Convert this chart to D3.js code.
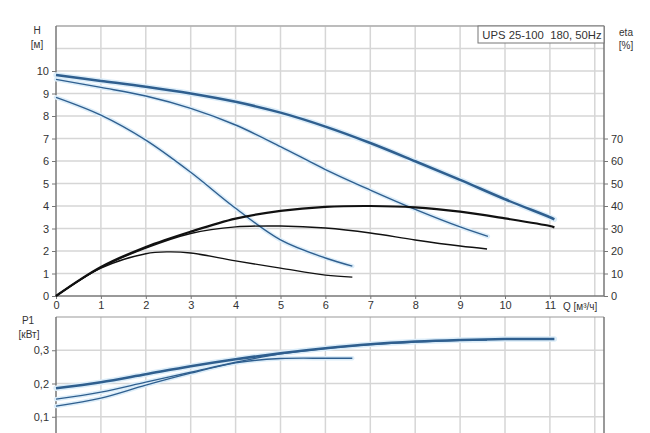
<!DOCTYPE html>
<html><head><meta charset="utf-8">
<script src="https://cdn.jsdelivr.net/npm/d3@7/dist/d3.min.js"></script>
<style>
html,body{margin:0;padding:0;background:#fff;}
svg text{font-family:"Liberation Sans",Arial,sans-serif;fill:#333;}
</style></head>
<body><svg id="c" width="650" height="433"></svg>
<script>
// Data (Q in m³/h)
const qTicks = [0,1,2,3,4,5,6,7,8,9,10,11];
const hTicks = [0,1,2,3,4,5,6,7,8,9,10];
const etaTicks = [0,10,20,30,40,50,60,70];
const pTicks = [0.1,0.2,0.3];

const hMaxQ = [0,1,2,3,4,5,6,7,8,9,10,11,11.1];
const hMax  = [9.82,9.56,9.3,9.0,8.63,8.15,7.53,6.8,5.99,5.16,4.3,3.5,3.41];
const hMidQ = [0,1,2,3,4,5,6,7,8,9,9.62];
const hMid  = [9.63,9.27,8.89,8.34,7.6,6.64,5.62,4.71,3.85,3.07,2.65];
const hLowQ = [0,1,2,3,4,5,6,6.6];
const hLow  = [8.83,8.04,6.93,5.5,3.9,2.49,1.69,1.33];

const etaMaxQ = [0,1,2,3,4,5,6,7,8,9,10,11,11.1];
const etaMax  = [0,12.9,21.8,28.6,34.4,37.8,39.6,40,39.4,37.5,34.5,31.1,30.5];
const etaMidQ = [0,1,2,3,4,5,6,7,8,9,9.6];
const etaMid  = [0,12.6,21.3,27.8,30.7,31.1,30.2,28,24.9,22.2,20.9];
const etaLowQ = [0,1,2,2.5,3,4,5,6,6.6];
const etaLow  = [0,12.4,18.8,19.6,19.1,15.6,12.4,9.3,8.4];

const pMaxQ = [0,1,2,3,4,5,6,7,8,9,10,11,11.1];
const pMax  = [0.186,0.204,0.228,0.252,0.273,0.291,0.306,0.318,0.326,0.331,0.334,0.334,0.334];
const pMidQ = [0,1,2,3,4,5,6,7,8,9,9.6];
const pMid  = [0.153,0.174,0.204,0.234,0.264,0.289,0.305,0.317,0.325,0.330,0.331];
const pLowQ = [0,1,2,3,4,5,6,6.6];
const pLow  = [0.132,0.156,0.195,0.231,0.262,0.275,0.276,0.276];

const svg = d3.select("#c");
const L = 56, R = 604;
const x = d3.scaleLinear().domain([0,12.2]).range([L, L + 12.2*44.9]);
const y = d3.scaleLinear().domain([0,12]).range([296,26]);
const yEta = d3.scaleLinear().domain([0,120]).range([296,26]);
const yP = d3.scaleLinear().domain([0,0.4]).range([450,317]);

const gridC = "#d6d6d6", axC = "#777";

// Top chart grid
const gTop = svg.append("g");
d3.range(1,13).forEach(v=>{
  gTop.append("line").attr("x1",x(v)).attr("x2",x(v)).attr("y1",26).attr("y2",296)
    .attr("stroke",gridC).attr("stroke-width",1.5);
});
d3.range(1,13).forEach(v=>{
  gTop.append("line").attr("x1",L).attr("x2",R).attr("y1",y(v)).attr("y2",y(v))
    .attr("stroke",gridC).attr("stroke-width",1.5);
});
// Bottom grid
const gBot = svg.append("g");
d3.range(1,13).forEach(v=>{
  gBot.append("line").attr("x1",x(v)).attr("x2",x(v)).attr("y1",317).attr("y2",433)
    .attr("stroke",gridC).attr("stroke-width",1.5);
});
pTicks.forEach(v=>{
  gBot.append("line").attr("x1",L).attr("x2",R).attr("y1",yP(v)).attr("y2",yP(v))
    .attr("stroke",gridC).attr("stroke-width",1.5);
});

// Frames
svg.append("line").attr("x1",L).attr("x2",R).attr("y1",26).attr("y2",26).attr("stroke","#999").attr("stroke-width",1);
svg.append("line").attr("x1",L).attr("x2",R).attr("y1",317).attr("y2",317).attr("stroke","#999").attr("stroke-width",1);

// Axes
const axL = d3.axisLeft(y).tickValues(hTicks).tickSize(4).tickFormat(d3.format("d"));
const gL = svg.append("g").attr("transform",`translate(${L},0)`).call(axL);
const axR = d3.axisRight(yEta).tickValues(etaTicks).tickSize(4).tickFormat(d3.format("d"));
const gR = svg.append("g").attr("transform",`translate(${R},0)`).call(axR);
const axB = d3.axisBottom(x).tickValues(qTicks).tickSize(3).tickFormat(d3.format("d"));
const gB = svg.append("g").attr("transform",`translate(0,296)`).call(axB);
const fmtP = v => d3.format(".1f")(v).replace(".", ",");
const axP = d3.axisLeft(yP).tickValues(pTicks).tickSize(4).tickFormat(fmtP);
const gP = svg.append("g").attr("transform",`translate(${L},0)`).call(axP);
svg.append("line").attr("x1",R).attr("x2",R).attr("y1",317).attr("y2",433).attr("stroke",axC).attr("stroke-width",1.5);

[gL,gR,gB,gP].forEach(g=>{
  g.select(".domain").attr("stroke",axC).attr("stroke-width",1.5);
  g.selectAll(".tick line").attr("stroke",axC);
  g.selectAll(".tick text").attr("font-size",11).attr("fill","#333")
    .style("font-family","'Liberation Sans',Arial,sans-serif");
});
gL.select(".domain").attr("d",`M0,26V296`);
gP.select(".domain").attr("d",`M0,317V433`);
gR.select(".domain").attr("d",`M0,26V296`);
gB.select(".domain").attr("d",`M${L},0H${R}`);
gB.selectAll(".tick text").attr("dy","0.6em");

// Labels
const lab = (t,xx,yy,anchor,size)=>svg.append("text").attr("x",xx).attr("y",yy)
  .attr("text-anchor",anchor||"start").attr("font-size",size||10).text(t);
lab("H",37,34,"middle",10);
lab("[м]",37,48,"middle",10);
lab("eta",626,36,"middle",10);
lab("[%]",626,49,"middle",10);
lab("P1",28,324,"middle",10);
lab("[кВт]",29,338,"middle",10);
lab("Q [м³/ч]",563,310,"start",10);

// Title box
svg.append("rect").attr("x",478).attr("y",26).attr("width",126).attr("height",17)
  .attr("fill","#fff").attr("stroke","#777").attr("stroke-width",1);
lab("UPS 25-100  180, 50Hz",542,39,"middle",11.3).style("white-space","pre");

// Curves
const mk = (xs, ys, yScale) => d3.line().x((d,i)=>x(xs[i])).y((d,i)=>yScale(ys[i])).curve(d3.curveCatmullRom.alpha(0.5))(ys);
const blue = "#2f5f8f", halo = "#dcedf9", black = "#111";
const blues = [
  [hMaxQ,hMax,y,2.5],[hMidQ,hMid,y,1.4],[hLowQ,hLow,y,1.4],
  [pMaxQ,pMax,yP,2.5],[pMidQ,pMid,yP,1.4],[pLowQ,pLow,yP,1.4]
];
blues.forEach(b=>{
  svg.append("path").attr("d",mk(b[0],b[1],b[2])).attr("fill","none").attr("stroke",halo).attr("stroke-width",b[3]+3).attr("stroke-linecap","round");
});
blues.forEach(b=>{
  svg.append("path").attr("d",mk(b[0],b[1],b[2])).attr("fill","none").attr("stroke",blue).attr("stroke-width",b[3]);
});
[[etaMaxQ,etaMax,2.2],[etaMidQ,etaMid,1.4],[etaLowQ,etaLow,1.4]].forEach(b=>{
  svg.append("path").attr("d",mk(b[0],b[1],yEta)).attr("fill","none").attr("stroke",black).attr("stroke-width",b[2]);
});
</script></body></html>
